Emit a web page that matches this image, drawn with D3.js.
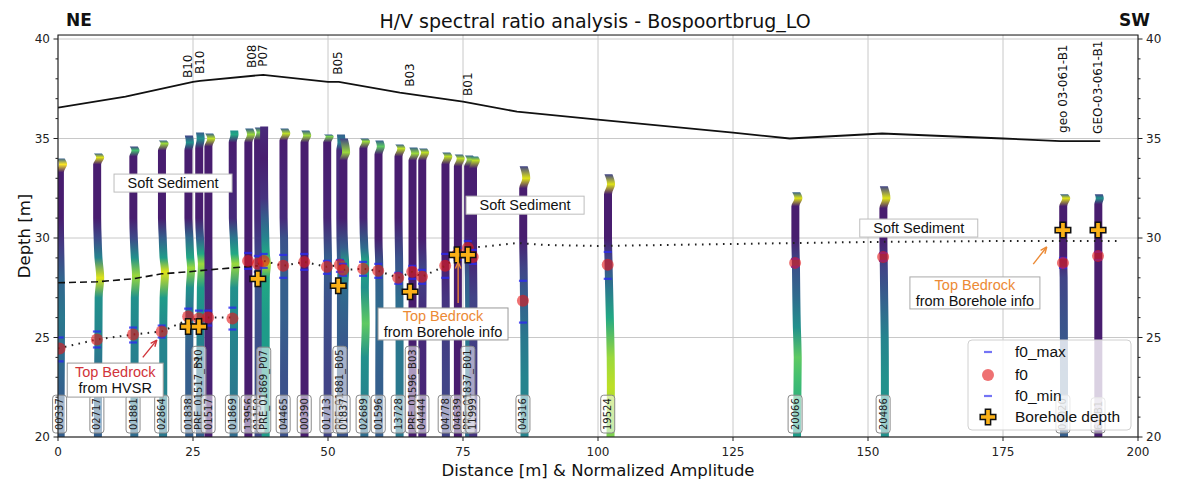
<!DOCTYPE html>
<html>
<head>
<meta charset="utf-8">
<script src="https://cdn.jsdelivr.net/npm/d3@7"></script>
<style>
  body { margin: 0; background: #fff; }
  svg { display: block; font-family: "DejaVu Sans", sans-serif; }
</style>
</head>
<body>
<svg id="chart" width="1179" height="480"></svg>
<script>
// ---------------------------------------------------------------
// HVSR stations along the profile (distance in m, NE -> SW)
// ---------------------------------------------------------------
const stationIds = ["00337","02717","01881","02864","01838","PRE_01517_B10","01517","01869",
  "13956","01150","PRE_01869_P07","04465","00390","01713","PRE_01881_B05","01837","02689",
  "01596","13728","PRE_01596_B03","04444","04778","04639","PRE_01837_B01","11999","04316",
  "19524","20066","20486","03020","61-B1"];
const stationDist = [0.3,7.2,13.9,19.2,24.1,26.1,27.8,32.3,35.2,37.0,38.1,41.7,45.6,49.8,52.2,
  52.8,56.5,59.3,63.0,65.6,67.4,71.7,74.0,75.9,76.8,86.1,101.8,136.5,152.8,186.1,192.6];

// normalized H/V amplitude profile per station: [depth (m), amplitude 0..1]
const stationAmp = [
  [[34.0,0.3],[33.7,1.0],[33.3,0.08],[31,0.08],[29.5,0.18],[28,0.32],[26,0.4],[24,0.35],[22,0.3],[20,0.3]],
  [[34.25,0.3],[34.05,0.95],[33.7,0.08],[31,0.08],[30,0.22],[29,0.45],[28,0.95],[27,0.5],[25,0.45],[23,0.35],[20,0.3]],
  [[34.6,0.2],[34.4,0.7],[34.1,0.08],[31,0.08],[30,0.22],[29,0.5],[28.1,0.85],[27,0.5],[25,0.45],[22,0.4],[20,0.35]],
  [[34.9,0.3],[34.75,0.85],[34.4,0.08],[31,0.08],[30,0.3],[29,0.55],[28.3,0.95],[27,0.55],[25,0.45],[22,0.45],[20,0.4]],
  [[35.15,0.2],[34.8,0.5],[34.4,0.08],[31,0.08],[30,0.35],[29,0.6],[28.5,0.85],[27.5,0.5],[26,0.35],[24,0.3],[20,0.3]],
  [[35.3,0.3],[35.0,0.5],[34.5,0.08],[31,0.08],[30,0.3],[29.2,0.6],[28.7,0.85],[27.5,0.55],[25,0.45],[22,0.35],[20,0.3]],
  [[35.25,0.3],[35.0,0.9],[34.6,0.08],[30,0.08],[28,0.12],[25,0.1],[20,0.08]],
  [[35.4,0.5],[35.2,0.6],[34.8,0.08],[31,0.12],[30,0.4],[29.2,0.6],[28.7,0.85],[27.5,0.5],[25,0.45],[22,0.4],[20,0.35]],
  [[35.5,0.3],[35.2,0.85],[34.8,0.08],[25,0.08],[20,0.08]],
  [[35.55,0.25],[35.3,0.8],[34.9,0.08],[31,0.12],[29,0.22],[27,0.25],[20,0.22]],
  [[35.6,0.12],[34,0.08],[32,0.15],[31,0.3],[30,0.45],[29.2,0.6],[28.7,0.9],[28,0.6],[26,0.55],[23,0.55],[20,0.55]],
  [[35.5,0.3],[35.25,0.9],[34.9,0.08],[31,0.12],[30,0.25],[28,0.3],[26,0.3],[23,0.25],[20,0.25]],
  [[35.4,0.3],[35.15,0.85],[34.8,0.08],[28,0.08],[20,0.08]],
  [[35.2,0.3],[35.1,0.8],[34.8,0.08],[31,0.1],[29,0.3],[27,0.25],[23,0.2],[20,0.2]],
  [[35.2,0.3],[34.8,0.45],[34.4,0.12],[31,0.12],[29,0.3],[28.5,0.45],[27,0.3],[23,0.3],[20,0.3]],
  [[35.0,0.2],[34.3,0.85],[33.9,0.08],[31,0.08],[29.5,0.3],[28.6,0.6],[27.5,0.35],[24,0.25],[20,0.25]],
  [[35.0,0.3],[34.85,0.85],[34.5,0.08],[31,0.1],[29.5,0.35],[28.8,0.6],[27.5,0.5],[25.7,0.75],[24,0.5],[22,0.45],[20,0.35]],
  [[34.9,0.3],[34.6,0.75],[34.2,0.08],[30,0.08],[28.5,0.3],[26,0.35],[23,0.3],[20,0.3]],
  [[34.7,0.3],[34.5,0.9],[34.1,0.08],[31,0.08],[29,0.25],[27,0.35],[24,0.4],[20,0.4]],
  [[34.55,0.3],[34.25,0.85],[33.9,0.08],[25,0.08],[20,0.08]],
  [[34.5,0.3],[34.3,0.9],[33.9,0.08],[30,0.08],[28.5,0.2],[26,0.12],[20,0.1]],
  [[34.3,0.3],[34.1,0.9],[33.7,0.08],[29,0.08],[27,0.15],[23,0.2],[20,0.2]],
  [[34.2,0.3],[34.0,0.9],[33.6,0.08],[20,0.08]],
  [[34.15,0.3],[33.95,0.85],[33.6,0.08],[30,0.1],[28,0.3],[25,0.4],[20,0.35]],
  [[34.1,0.4],[33.9,0.9],[33.5,0.08],[29,0.1],[27,0.2],[20,0.15]],
  [[33.6,0.2],[33.0,0.95],[32.5,0.08],[30,0.08],[28.5,0.2],[27,0.3],[25,0.4],[23,0.45],[20,0.45]],
  [[33.2,0.2],[32.7,0.95],[32.2,0.08],[30,0.08],[29,0.2],[27.5,0.4],[26,0.6],[24,0.85],[22.5,0.9],[20,0.8]],
  [[32.3,0.3],[32.0,0.95],[31.6,0.08],[30,0.08],[28.5,0.25],[27,0.35],[25.5,0.5],[24,0.75],[23,0.7],[21,0.6],[20,0.55]],
  [[32.6,0.2],[32.0,0.95],[31.5,0.08],[30,0.08],[28.5,0.2],[27,0.3],[25,0.45],[23,0.5],[20,0.5]],
  [[32.2,0.3],[32.0,0.95],[31.6,0.08],[29,0.08],[28,0.2],[26,0.25],[23,0.3],[20,0.3]],
  [[32.2,0.2],[32.0,0.5],[31.7,0.08],[26,0.08],[20,0.08]]
];

// fundamental frequency picks converted to depth (m)
const f0Dist  = [0.3,7.2,13.9,19.2,24.1,26.1,27.8,32.3,35.2,37.0,38.1,41.7,45.6,49.8,52.2,52.8,56.5,
  59.3,63.0,65.6,67.4,71.7,74.0,75.9,76.8,86.1,101.8,136.5,152.8,186.1,192.6];
const f0Depth = [24.45,24.9,25.15,25.3,26.05,25.95,26.0,25.95,28.85,28.7,28.85,28.6,28.8,28.55,28.65,
  28.4,28.45,28.35,28.0,28.3,28.05,28.6,29.2,29.5,29.05,26.85,28.65,28.75,29.05,28.75,29.1];
const f0Max   = [25.0,25.3,25.5,25.6,26.45,26.35,26.35,26.5,29.25,29.1,29.2,29.15,29.2,28.85,28.9,
  28.7,28.8,28.7,28.25,28.6,28.4,29.2,29.5,29.85,29.4,27.85,29.3,28.95,29.25,29.0,29.3];
const f0Min   = [23.8,24.5,24.75,25.0,25.65,25.55,25.6,25.4,28.45,28.3,28.5,28.0,28.4,28.2,28.3,
  28.1,28.1,28.0,27.7,27.95,27.7,28.0,28.9,29.2,28.7,25.75,27.95,28.55,28.85,28.5,28.9];

// borehole top-of-bedrock depths
const bhDist  = [24.1,26.1,37.0,51.9,65.2,73.9,75.9,186.1,192.6];
const bhDepth = [25.55,25.55,27.95,27.6,27.3,29.15,29.15,30.4,30.4];

// ground surface profile
const surfaceDist = [0,12.5,25,26.3,38,50,52,63.3,75,85,100,125,135.5,152.6,175,185.6,193];
const surfaceElev = [36.55,37.1,37.85,37.9,38.2,37.85,37.85,37.3,36.85,36.35,35.95,35.3,35.0,35.25,35.0,34.87,34.87];

// borehole names written above the surface
const bhLabels    = ["B10","B10","B08","P07","B05","B03","B01","geo 03-061-B1","GEO-03-061-B1"];
const bhLabelDist = [24.1,26.3,35.9,37.9,51.9,65.2,75.9,186.1,192.6];
const bhLabelBase = [38.04,38.24,38.54,38.6,38.2,37.6,37.14,35.28,35.23];

// interpreted bedrock interfaces
const hvsrTopDist  = [0,7.2,13.9,19.2,24.1,26.1,27.8,32.3];
const hvsrTopDepth = [24.45,24.9,25.15,25.3,25.9,25.95,26.0,26.0];
const dashTopDist  = [0,7.2,13.9,19.2,24.1,27.8,32.3,37.0];
const dashTopDepth = [27.75,27.8,27.95,28.2,28.3,28.4,28.5,28.6];
const dotTopDist   = [37.0,38.1,41.7,45.6,49.8,52.2,52.8,56.5,59.3,63.0,65.6,67.4,71.7,75.9,80,85,90,100,125,150,175,197];
const dotTopDepth  = [28.7,28.85,28.6,28.8,28.55,28.65,28.4,28.45,28.35,28.0,28.3,28.05,28.6,29.5,29.6,29.75,29.65,29.6,29.7,29.8,29.85,29.85];

// axis ticks
const xTicks = [0,25,50,75,100,125,150,175,200];
const yTicks = [20,25,30,35,40];
const yMinorTicks = d3.range(20,41,1);

// annotation texts (centre in data units)
const softLabel = "Soft Sediment";
const softBoxDist  = [21.3,86.5,159.4];
const softBoxDepth = [32.76,31.65,30.5];

const legendItems = ["f0_max","f0","f0_min","Borehole depth"];

// ---------------------------------------------------------------
const svg = d3.select("#chart");
const x = d3.scaleLinear().domain([0,200]).range([58,1138]);
const y = d3.scaleLinear().domain([20,40]).range([437,39]);
const plotTop = y(40.2), plotBottom = y(20);
const defs = svg.append("defs");
defs.append("clipPath").attr("id","plotClip").append("rect")
  .attr("x",x(0)).attr("y",plotTop).attr("width",x(200)-x(0)).attr("height",plotBottom-plotTop);

// grid
const grid = svg.append("g").attr("stroke","#c8c8c8").attr("stroke-width",1);
xTicks.forEach(t => grid.append("line").attr("x1",x(t)).attr("x2",x(t)).attr("y1",plotTop).attr("y2",plotBottom));
yTicks.forEach(t => grid.append("line").attr("x1",x(0)).attr("x2",x(200)).attr("y1",y(t)).attr("y2",y(t)));

const plot = svg.append("g").attr("clip-path","url(#plotClip)");

// amplitude strips: offset to the right by the normalized amplitude, coloured with viridis
const AMP_SHIFT = 0.65, STRIP_W = 8;
stationDist.forEach((d,i) => {
  const prof = stationAmp[i];
  const top = prof[0][0];
  const gid = "amp" + i;
  const grad = defs.append("linearGradient").attr("id",gid).attr("gradientUnits","userSpaceOnUse")
    .attr("x1",0).attr("x2",0).attr("y1",y(top)).attr("y2",y(20));
  prof.forEach(p => grad.append("stop")
    .attr("offset",(y(p[0])-y(top))/(y(20)-y(top)))
    .attr("stop-color",d3.interpolateViridis(p[1])));
  const area = d3.area().curve(d3.curveMonotoneY)
    .y(p => y(p[0]))
    .x0(p => x(d + p[1]*AMP_SHIFT) - STRIP_W/2)
    .x1(p => x(d + p[1]*AMP_SHIFT) + STRIP_W/2);
  plot.append("path").attr("d",area(prof)).attr("fill",`url(#${gid})`);
});

// surface
plot.append("path")
  .attr("d", d3.line().x((d,i)=>x(surfaceDist[i])).y(d=>y(d))(surfaceElev))
  .attr("fill","none").attr("stroke","#111").attr("stroke-width",1.8);

// interfaces
const lineXY = (xs,ys) => d3.line().x((d,i)=>x(xs[i])).y(d=>y(d))(ys);
plot.append("path").attr("d",lineXY(dashTopDist,dashTopDepth))
  .attr("fill","none").attr("stroke","#111").attr("stroke-width",1.6).attr("stroke-dasharray","7,4");
plot.append("path").attr("d",lineXY(dotTopDist,dotTopDepth))
  .attr("fill","none").attr("stroke","#222").attr("stroke-width",2).attr("stroke-dasharray","1.6,5.4");
plot.append("path").attr("d",lineXY(hvsrTopDist,hvsrTopDepth))
  .attr("fill","none").attr("stroke","#222").attr("stroke-width",2).attr("stroke-dasharray","1.6,5.4");

// f0 with min / max markers
const f0Col = "#e31a1c", dashCol = "#2a2af0";
f0Dist.forEach((d,i) => {
  [f0Max[i], f0Min[i]].forEach(v => plot.append("line")
    .attr("x1",x(d)-4).attr("x2",x(d)+4).attr("y1",y(v)).attr("y2",y(v))
    .attr("stroke",dashCol).attr("stroke-opacity",0.8).attr("stroke-width",2.2));
  plot.append("circle").attr("cx",x(d)).attr("cy",y(f0Depth[i])).attr("r",6)
    .attr("fill",f0Col).attr("fill-opacity",0.62);
});

// borehole depth markers
const crossPath = d3.symbol().type(d3.symbolCross).size(135)();
bhDist.forEach((d,i) => plot.append("path").attr("d",crossPath)
  .attr("transform",`translate(${x(d)},${y(bhDepth[i])})`)
  .attr("fill","#fbb117").attr("stroke","#111").attr("stroke-width",1.5));

// borehole names above the surface
bhLabels.forEach((t,i) => svg.append("text")
  .attr("transform",`translate(${x(bhLabelDist[i])},${y(bhLabelBase[i])}) rotate(-90)`)
  .attr("dominant-baseline","central").attr("font-size",12)
  .attr("fill","#111").text(t));

// station ids at the bottom
const idLayer = svg.append("g");
stationIds.forEach((t,i) => {
  const cx = x(stationDist[i]), base = 430;
  const g = idLayer.append("g");
  const rect = g.append("rect");
  const txt = g.append("text")
    .attr("transform",`translate(${cx},${base}) rotate(-90)`)
    .attr("dominant-baseline","central").attr("font-size",10)
    .attr("fill","#222").text(t);
  const len = txt.node().getComputedTextLength();
  rect.attr("x",cx-7).attr("y",base-len-3).attr("width",14).attr("height",len+6).attr("rx",3)
    .attr("fill","#fff").attr("fill-opacity",0.55).attr("stroke","#8a8a8a").attr("stroke-width",1);
});
svg.append("text").attr("x",x(25.7)).attr("y",367).attr("text-anchor","middle")
  .attr("font-size",14).attr("fill","#222").text("?");

// annotation boxes
function noteBox(cxD, cyD, lines, colors) {
  const g = svg.append("g");
  const cx = x(cxD), cy = y(cyD);
  const lh = 16;
  const rect = g.append("rect");
  lines.forEach((l,k) => g.append("text").attr("x",cx)
    .attr("y",cy + (k - (lines.length-1)/2)*lh).attr("dy","0.35em")
    .attr("text-anchor","middle").attr("font-family","Liberation Sans, Arial, sans-serif")
    .attr("font-size",14.5).attr("fill",colors[k]).text(l));
  return {rect, cx, cy};
}
softBoxDist.forEach((d,i) => {
  const b = noteBox(d, softBoxDepth[i], [softLabel], ["#111"]);
  b.rect.attr("x",b.cx-59).attr("y",b.cy-9).attr("width",118).attr("height",18)
    .attr("fill","#fff").attr("stroke","#bdbdbd").attr("stroke-width",1);
});

function arrow(x1,y1,x2,y2,col) {
  const ax = x(x1), ay = y(y1), bx = x(x2), by = y(y2);
  const ang = Math.atan2(by-ay, bx-ax), hl = 7;
  svg.append("line").attr("x1",ax).attr("y1",ay).attr("x2",bx).attr("y2",by)
    .attr("stroke",col).attr("stroke-width",1.4);
  svg.append("path").attr("d",`M${bx},${by}L${bx-hl*Math.cos(ang-0.4)},${by-hl*Math.sin(ang-0.4)}M${bx},${by}L${bx-hl*Math.cos(ang+0.4)},${by-hl*Math.sin(ang+0.4)}`)
    .attr("stroke",col).attr("stroke-width",1.4).attr("fill","none");
}

const redNote = "#d1343a", orangeNote = "#ec8a35";
const bHvsr = noteBox(10.6, 22.86, ["Top Bedrock","from HVSR"], [redNote,"#111"]);
bHvsr.rect.attr("x",bHvsr.cx-48).attr("y",bHvsr.cy-17).attr("width",96).attr("height",34)
  .attr("fill","#fff").attr("stroke","#999");
arrow(15.7,24.0,18.3,24.87,redNote);

const bBh1 = noteBox(71.3, 25.68, ["Top Bedrock","from Borehole info"], [orangeNote,"#111"]);
bBh1.rect.attr("x",bBh1.cx-65).attr("y",bBh1.cy-16).attr("width",130).attr("height",32)
  .attr("fill","#fff").attr("stroke","#999");
arrow(74.1,26.73,74.1,28.79,orangeNote);

const bBh2 = noteBox(169.8, 27.24, ["Top Bedrock","from Borehole info"], [orangeNote,"#111"]);
bBh2.rect.attr("x",bBh2.cx-65).attr("y",bBh2.cy-16).attr("width",130).attr("height",32)
  .attr("fill","#fff").attr("stroke","#aaa");
arrow(180.6,28.69,183.1,29.55,orangeNote);

// frame
svg.append("rect").attr("x",x(0)).attr("y",plotTop).attr("width",x(200)-x(0)).attr("height",plotBottom-plotTop)
  .attr("fill","none").attr("stroke","#222").attr("stroke-width",1.1);

// axes
const ax = svg.append("g").attr("font-size",12).attr("fill","#222");
xTicks.forEach(t => {
  ax.append("line").attr("x1",x(t)).attr("x2",x(t)).attr("y1",plotBottom).attr("y2",plotBottom+4).attr("stroke","#222");
  ax.append("text").attr("x",x(t)).attr("y",plotBottom+19).attr("text-anchor","middle").text(t);
});
yMinorTicks.forEach(t => {
  const major = yTicks.includes(t), len = major ? 4.5 : 2.5;
  ax.append("line").attr("x1",x(0)-len).attr("x2",x(0)).attr("y1",y(t)).attr("y2",y(t)).attr("stroke","#222");
  ax.append("line").attr("x1",x(200)).attr("x2",x(200)+len).attr("y1",y(t)).attr("y2",y(t)).attr("stroke","#222");
});
yTicks.forEach(t => {
  ax.append("text").attr("x",x(0)-8).attr("y",y(t)).attr("dy","0.35em").attr("text-anchor","end").text(t);
  ax.append("text").attr("x",x(200)+8).attr("y",y(t)).attr("dy","0.35em").attr("text-anchor","start").text(t);
});

svg.append("text").attr("x",(x(0)+x(200))/2).attr("y",476).attr("text-anchor","middle")
  .attr("font-size",16.5).attr("fill","#111").text("Distance [m] & Normalized Amplitude");
svg.append("text").attr("transform",`translate(24,${(plotTop+plotBottom)/2}) rotate(-90)`)
  .attr("text-anchor","middle").attr("dy","0.35em").attr("font-size",16.5).attr("fill","#111").text("Depth [m]");
svg.append("text").attr("x",595).attr("y",28).attr("text-anchor","middle")
  .attr("font-size",19).attr("fill","#111").text("H/V spectral ratio analysis - Bospoortbrug_LO");
svg.append("text").attr("x",66).attr("y",26).attr("font-size",17).attr("font-weight","bold")
  .attr("fill","#111").text("NE");
svg.append("text").attr("x",1150).attr("y",26).attr("text-anchor","end").attr("font-size",17)
  .attr("font-weight","bold").attr("fill","#111").text("SW");

// legend
const lg = svg.append("g").attr("transform","translate(968,340)");
lg.append("rect").attr("width",163).attr("height",90).attr("rx",4)
  .attr("fill","#fff").attr("fill-opacity",0.8).attr("stroke","#d0d0d0");
const rowY = [12,35,56,77];
legendItems.forEach((t,k) => {
  const ry = rowY[k];
  if (t === "f0_max" || t === "f0_min") {
    lg.append("line").attr("x1",16).attr("x2",24).attr("y1",ry).attr("y2",ry)
      .attr("stroke",dashCol).attr("stroke-opacity",0.65).attr("stroke-width",2.2);
  } else if (t === "f0") {
    lg.append("circle").attr("cx",20).attr("cy",ry).attr("r",6).attr("fill",f0Col).attr("fill-opacity",0.62);
  } else {
    lg.append("path").attr("d",crossPath).attr("transform",`translate(20,${ry})`)
      .attr("fill","#fbb117").attr("stroke","#111").attr("stroke-width",1.5);
  }
  lg.append("text").attr("x",47).attr("y",ry).attr("dy","0.35em")
    .attr("font-family","Liberation Sans, Arial, sans-serif").attr("font-size",15.5)
    .attr("fill","#111").text(t);
});
</script>
</body>
</html>
